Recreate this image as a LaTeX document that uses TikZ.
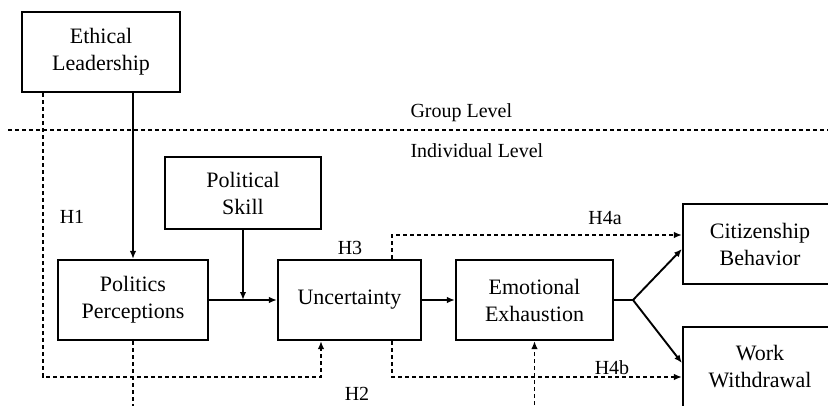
\documentclass[tikz,border=0pt]{standalone}
\usepackage{fontspec}
\setmainfont{Liberation Serif}
\usetikzlibrary{arrows.meta}

\begin{document}
\begin{tikzpicture}[x=1pt,y=-1pt,>={Latex[length=8pt,width=6.5pt]},
    box/.style={draw,line width=2.1pt,align=center,inner sep=0pt,minimum height=80pt,font=\fontsize{22}{27}\selectfont},
    lbl/.style={font=\fontsize{20}{24}\selectfont},
    link/.style={line width=1.9pt},
    dlink/.style={line width=1.9pt,dash pattern=on 4pt off 3pt}]
            \useasboundingbox (0,0) rectangle (828,405);
            \clip (0,0) rectangle (828,405);

            \node[box,minimum width=158pt] (ethic) at (101,52) {Ethical\\Leadership};
            \node[box,minimum width=156pt,minimum height=72pt] (skill) at (243,193) {Political\\Skill};
            \node[box,minimum width=150pt] (percep) at (133,300) {Politics\\Perceptions};
            \node[box,minimum width=143pt] (uncert) at (349.5,300) {Uncertainty};
            \node[box,minimum width=157pt] (exhaust) at (534.5,300) {Emotional\\Exhaustion};
            \node[box,minimum width=154pt] (citizen) at (760,244) {Citizenship\\Behavior};
            \node[box,minimum width=154pt] (withdraw) at (760,367) {Work\\Withdrawal};

            \node[lbl,anchor=west] (group) at (407,113) {Group Level};
            \node[lbl,anchor=west] (indiv) at (407,151) {Individual Level};
            \node[lbl] (h1) at (72,217) {H1};
            \node[lbl] (h2) at (357,394) {H2};
            \node[lbl] (h3) at (350,248) {H3};
            \node[lbl] (h4a) at (605,218) {H4a};
            \node[lbl] (h4b) at (612,368) {H4b};

            \coordinate (gleft) at (8,130);
            \coordinate (gright) at (830,130);
            \coordinate (fork) at (633,300);
            \coordinate (h1low) at (43,377);
            \coordinate (h1up) at (321,377);
            \coordinate (h4top) at (392,235);
            \coordinate (h4low) at (392,377);
            \coordinate (bottom) at (0,412);

            \draw[dlink] (gleft) -- (gright);

            \draw[link,->] (percep.north |- ethic.south) to (percep.north);
            \draw[link,->] (percep) to (uncert);
            \draw[link,->] (skill) to (skill.south |- percep.east);
            \draw[link,->] (uncert) to (exhaust);
            \draw[link] (exhaust) to (fork);
            \draw[link,->] (fork) to ([yshift=-5pt]citizen.west);
            \draw[link,->] (fork) to ([yshift=4pt]withdraw.west);

            \draw[dlink,->] (h1low |- ethic.south) -- (h1low) -- (h1up) -- (h1up |- uncert.south);
            \draw[dlink,->] (h4top |- uncert.north) -- (h4top) -- (h4top -| citizen.west);
            \draw[dlink,->] (h4low |- uncert.south) -- (h4low) -- (h4low -| withdraw.west);
            \draw[dlink] (percep.south) to (percep.south |- bottom);
            \draw[dlink,->] (exhaust.south |- bottom) to (exhaust.south);
        \end{tikzpicture}
\end{document}
